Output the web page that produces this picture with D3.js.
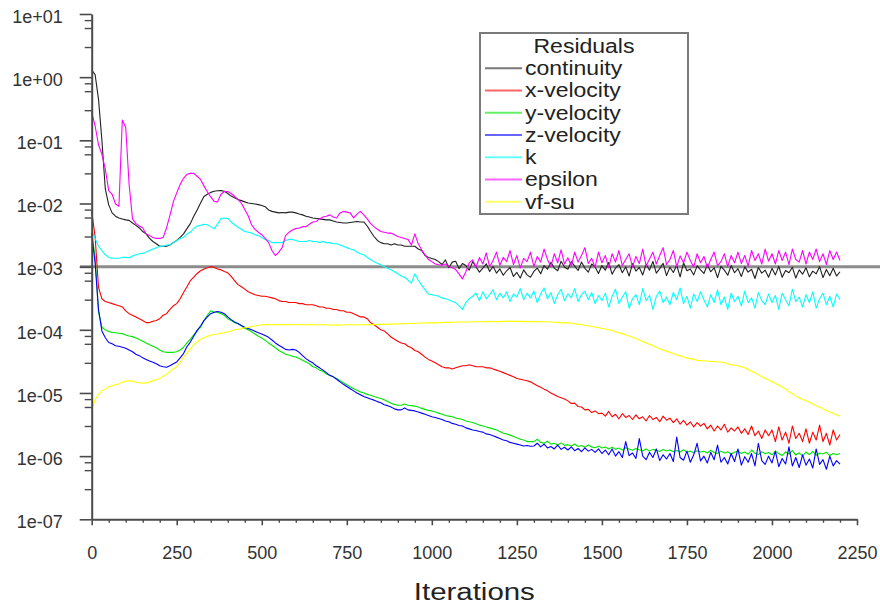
<!DOCTYPE html>
<html><head><meta charset="utf-8">
<script src="https://cdn.jsdelivr.net/npm/d3@7"></script>
<style>
body{margin:0;background:#fff}
svg{display:block}
text{font-family:"Liberation Sans",Arial,Helvetica,sans-serif}
</style>
</head><body>
<svg id="chart" width="880" height="613"></svg>
<script>
// ---- data ----
const iterations = d3.range(0, 2201, 10);

const continuity = [
1.3,1.1,0.45,0.1,0.017,0.0095,0.0071,0.0063,0.0059,0.0057,
0.0055,0.0054,0.0049,0.0045,0.0041,0.0036,0.0033,0.0028,0.0025,0.0023,
0.0021,0.0021,0.0021,0.0022,0.0024,0.0026,0.0029,0.0033,0.0040,0.0048,
0.0063,0.0079,0.0102,0.0129,0.0140,0.0150,0.0156,0.0159,0.0160,0.0156,
0.0144,0.0131,0.0123,0.0116,0.0111,0.0106,0.0102,0.0100,0.0098,0.0096,
0.0093,0.0089,0.0079,0.0075,0.0073,0.0071,0.0072,0.0071,0.0073,0.0073,
0.0071,0.0068,0.0066,0.0063,0.0061,0.0059,0.0058,0.0057,0.0056,0.0055,
0.0055,0.0053,0.0051,0.0050,0.0049,0.0049,0.0050,0.0051,0.0052,0.0051,
0.0051,0.0044,0.0036,0.0030,0.0026,0.0024,0.0023,0.0023,0.0022,0.0023,
0.0022,0.0022,0.0021,0.0021,0.0021,0.0021,0.0019,0.0018,0.0015,0.0014,
0.00135,0.0013,0.0012,0.00108,0.00128,0.00096,0.00118,0.00122,0.00093,0.00112,
0.00104,0.00088,0.0012,0.00099,0.00082,0.00095,0.00111,0.00084,0.00101,0.00079,
0.00092,0.00073,0.00086,0.00097,0.0007,0.00081,0.00066,0.00089,0.00074,0.00068,
0.00084,0.00095,0.00077,0.00104,0.00091,0.00117,0.00095,0.00086,0.00122,0.00099,
0.00091,0.0012,0.00102,0.00087,0.00118,0.00094,0.00082,0.0011,0.00099,0.00078,
0.00104,0.00088,0.00116,0.00076,0.00095,0.00108,0.0008,0.00099,0.00071,0.00112,
0.00085,0.00097,0.00074,0.00109,0.00088,0.00121,0.00079,0.00093,0.00113,0.00072,
0.00098,0.00081,0.00105,0.00069,0.00115,0.00086,0.00092,0.00074,0.00103,0.00089,
0.00078,0.00107,0.00083,0.00096,0.00067,0.00101,0.00088,0.00073,0.00104,0.0008,
0.00093,0.0007,0.00099,0.00082,0.00091,0.00065,0.00097,0.00079,0.00088,0.00068,
0.00094,0.00074,0.00101,0.00068,0.00087,0.0008,0.00098,0.00066,0.00089,0.00076,
0.00096,0.00069,0.00085,0.00077,0.001,0.00067,0.0009,0.00072,0.00094,0.00071,
0.00083];

const xVelocity = [
0.0075,0.003,0.00047,0.00031,0.00028,0.00027,0.00026,0.00025,0.00024,0.00023,
0.0002,0.00018,0.00017,0.00016,0.00015,0.00014,0.00013,0.00013,0.000137,0.00014,
0.00015,0.00017,0.00018,0.00021,0.00024,0.00026,0.00031,0.00039,0.00048,0.0006,
0.00068,0.00078,0.00086,0.00092,0.00096,0.001,0.00098,0.00092,0.00089,0.00084,
0.0008,0.0007,0.0006,0.00052,0.00048,0.00044,0.0004,0.00038,0.00036,0.00035,
0.00034,0.00034,0.00033,0.00032,0.00031,0.00029,0.00028,0.00028,0.00027,0.00027,
0.00027,0.00026,0.00026,0.00025,0.00025,0.00025,0.00024,0.00023,0.00023,0.00022,
0.00022,0.00021,0.00021,0.0002,0.0002,0.00019,0.00019,0.00018,0.00017,0.00016,
0.00016,0.00015,0.00013,0.00012,0.00011,0.0001,9.6e-5,8.6e-5,7.7e-5,7.1e-5,
6.6e-5,6.2e-5,6e-5,5.5e-5,5.2e-5,4.7e-5,4.5e-5,4.1e-5,3.7e-5,3.4e-5,
3.2e-5,3e-5,2.8e-5,2.6e-5,2.5e-5,2.5e-5,2.4e-5,2.5e-5,2.6e-5,2.7e-5,
2.7e-5,2.8e-5,2.7e-5,2.6e-5,2.6e-5,2.6e-5,2.5e-5,2.5e-5,2.4e-5,2.3e-5,
2.2e-5,2.1e-5,2e-5,1.9e-5,1.8e-5,1.7e-5,1.65e-5,1.6e-5,1.56e-5,1.5e-5,
1.4e-5,1.3e-5,1.23e-5,1.15e-5,1.08e-5,1e-5,9.4e-6,8.8e-6,8.4e-6,8e-6,
7.5e-6,6.8e-6,6.9e-6,6.1e-6,6e-6,5.4e-6,5.5e-6,4.9e-6,5.2e-6,4.7e-6,
4.8e-6,4.3e-6,5.1e-6,4.2e-6,4.6e-6,3.9e-6,4.7e-6,4.1e-6,4.4e-6,3.8e-6,
4.5e-6,3.9e-6,4.2e-6,3.6e-6,4.4e-6,3.8e-6,4.1e-6,3.5e-6,4.3e-6,3.7e-6,
4e-6,3.4e-6,3.9e-6,3.2e-6,3.7e-6,3.1e-6,3.5e-6,2.9e-6,3.4e-6,3e-6,
3.3e-6,2.7e-6,3.1e-6,2.5e-6,3e-6,2.6e-6,3.2e-6,2.4e-6,2.8e-6,2.5e-6,
2.9e-6,2.3e-6,2.7e-6,2.2e-6,3e-6,2.1e-6,2.5e-6,1.9e-6,2.6e-6,2.1e-6,
2.6e-6,1.7e-6,2.9e-6,1.8e-6,2.4e-6,1.6e-6,3e-6,1.9e-6,2.3e-6,1.7e-6,
2.7e-6,1.6e-6,2.4e-6,1.8e-6,3.1e-6,1.7e-6,2.3e-6,1.5e-6,2.6e-6,1.8e-6,
2.2e-6];

const yVelocity = [
0.0035,0.0014,0.00019,0.00011,1e-4,9.4e-5,9.1e-5,9e-5,8.8e-5,8.7e-5,
8.3e-5,8e-5,7.8e-5,7.4e-5,7e-5,6.6e-5,6.2e-5,5.8e-5,5.5e-5,5.2e-5,
4.8e-5,4.5e-5,4.4e-5,4.4e-5,4.4e-5,4.5e-5,4.8e-5,5.3e-5,6.2e-5,7.1e-5,
8.3e-5,9.6e-5,1.1e-4,1.4e-4,1.7e-4,2e-4,1.9e-4,1.9e-4,1.8e-4,1.7e-4,
1.5e-4,1.4e-4,1.3e-4,1.25e-4,1.16e-4,1.05e-4,1e-4,9.3e-5,8.6e-5,7.9e-5,
7.4e-5,6.8e-5,6.2e-5,5.7e-5,5.2e-5,4.7e-5,4.4e-5,4.1e-5,4e-5,3.8e-5,
3.7e-5,3.5e-5,3.3e-5,3.1e-5,2.9e-5,2.6e-5,2.5e-5,2.3e-5,2.2e-5,2e-5,
1.9e-5,1.8e-5,1.7e-5,1.56e-5,1.45e-5,1.35e-5,1.25e-5,1.17e-5,1.1e-5,1.04e-5,
1e-5,9.5e-6,9.2e-6,8.8e-6,8.5e-6,8.2e-6,7.8e-6,7.3e-6,6.9e-6,6.6e-6,
6.4e-6,6.4e-6,6.7e-6,6.4e-6,6.3e-6,6.2e-6,6e-6,5.7e-6,5.5e-6,5.3e-6,
5.2e-6,5e-6,4.8e-6,4.6e-6,4.4e-6,4.3e-6,4.2e-6,4e-6,3.9e-6,3.8e-6,
3.6e-6,3.5e-6,3.4e-6,3.25e-6,3.1e-6,3e-6,2.9e-6,2.8e-6,2.7e-6,2.6e-6,
2.45e-6,2.3e-6,2.25e-6,2.15e-6,2.05e-6,1.95e-6,1.85e-6,1.8e-6,1.7e-6,1.7e-6,
1.7e-6,1.85e-6,1.65e-6,1.6e-6,1.72e-6,1.55e-6,1.6e-6,1.5e-6,1.62e-6,1.48e-6,
1.52e-6,1.45e-6,1.56e-6,1.42e-6,1.47e-6,1.38e-6,1.5e-6,1.4e-6,1.36e-6,1.44e-6,
1.35e-6,1.4e-6,1.3e-6,1.38e-6,1.28e-6,1.34e-6,1.25e-6,1.36e-6,1.3e-6,1.24e-6,
1.32e-6,1.26e-6,1.22e-6,1.3e-6,1.2e-6,1.28e-6,1.24e-6,1.18e-6,1.27e-6,1.21e-6,
1.25e-6,1.17e-6,1.23e-6,1.16e-6,1.26e-6,1.15e-6,1.2e-6,1.13e-6,1.22e-6,1.16e-6,
1.19e-6,1.12e-6,1.24e-6,1.14e-6,1.1e-6,1.2e-6,1.12e-6,1.17e-6,1.08e-6,1.15e-6,
1.2e-6,1.1e-6,1.16e-6,1.07e-6,1.25e-6,1.11e-6,1.06e-6,1.18e-6,1.09e-6,1.14e-6,
1.05e-6,1.2e-6,1.1e-6,1.02e-6,1.17e-6,1.08e-6,1.22e-6,1.04e-6,1.13e-6,1e-6,
1.16e-6,1.06e-6,1.19e-6,1.03e-6,1.12e-6,1.08e-6,1.15e-6,1.02e-6,1.1e-6,1.05e-6,
1.1e-6];

const zVelocity = [
0.0033,0.00115,0.00021,9.6e-5,7.5e-5,6.3e-5,6e-5,5.6e-5,5.5e-5,5.3e-5,
5.1e-5,4.8e-5,4.5e-5,4.1e-5,3.9e-5,3.6e-5,3.4e-5,3.2e-5,3.06e-5,2.9e-5,
2.7e-5,2.6e-5,2.55e-5,2.7e-5,2.9e-5,3.1e-5,3.6e-5,4.2e-5,5.4e-5,6.4e-5,
7.9e-5,9.8e-5,1.15e-4,1.4e-4,1.6e-4,1.8e-4,1.9e-4,1.95e-4,1.9e-4,1.8e-4,
1.6e-4,1.45e-4,1.33e-4,1.26e-4,1.17e-4,1.1e-4,1.05e-4,1e-4,9.5e-5,9e-5,
8.6e-5,8.1e-5,7.6e-5,6.9e-5,6.2e-5,5.7e-5,5.3e-5,4.9e-5,4.8e-5,4.9e-5,
4.8e-5,4.4e-5,3.9e-5,3.5e-5,3.2e-5,3e-5,2.7e-5,2.5e-5,2.3e-5,2.1e-5,
1.9e-5,1.8e-5,1.65e-5,1.5e-5,1.37e-5,1.27e-5,1.17e-5,1.08e-5,1e-5,9.4e-6,
8.8e-6,8.4e-6,8e-6,7.7e-6,7.3e-6,7e-6,6.5e-6,6.3e-6,6e-6,5.6e-6,
5.4e-6,5.4e-6,5.8e-6,5.4e-6,5.3e-6,5.2e-6,5e-6,4.8e-6,4.6e-6,4.4e-6,
4.2e-6,4.1e-6,3.95e-6,3.8e-6,3.6e-6,3.5e-6,3.3e-6,3.2e-6,3.05e-6,3e-6,
2.8e-6,2.7e-6,2.6e-6,2.55e-6,2.45e-6,2.4e-6,2.25e-6,2.2e-6,2.1e-6,2e-6,
1.9e-6,1.8e-6,1.75e-6,1.65e-6,1.6e-6,1.55e-6,1.5e-6,1.45e-6,1.47e-6,1.43e-6,
1.45e-6,1.6e-6,1.4e-6,1.55e-6,1.35e-6,1.42e-6,1.3e-6,1.5e-6,1.28e-6,1.38e-6,
1.25e-6,1.4e-6,1.22e-6,1.32e-6,1.18e-6,1.35e-6,1.2e-6,1.28e-6,1.15e-6,1.3e-6,
1.1e-6,1.25e-6,1.05e-6,1.3e-6,1e-6,1.18e-6,9.5e-7,1.7e-6,1.02e-6,1.12e-6,
9.2e-7,1.9e-6,1e-6,8.8e-7,1.15e-6,9.5e-7,1.3e-6,8.5e-7,1.05e-6,9e-7,
1.1e-6,8.2e-7,2e-6,9.5e-7,8.6e-7,1.2e-6,8e-7,1.05e-6,1.6e-6,8.4e-7,
1e-6,7.8e-7,1.15e-6,8.8e-7,1.5e-6,8e-7,9.5e-7,7.5e-7,1.1e-6,8.2e-7,
1.3e-6,7.2e-7,9.8e-7,8e-7,1.1e-6,7e-7,1.6e-6,8.5e-7,7.4e-7,1e-6,
7.8e-7,1.2e-6,6.8e-7,9.2e-7,7.5e-7,1.4e-6,7e-7,9.5e-7,6.6e-7,1.05e-6,
7.2e-7,9e-7,6.5e-7,1.3e-6,7.4e-7,8.8e-7,6.2e-7,1e-6,7e-7,8.5e-7,
7.5e-7];

const kResidual = [
0.0038,0.0028,0.0021,0.0018,0.00154,0.0014,0.00136,0.00136,0.00136,0.0014,
0.0014,0.00138,0.00148,0.00154,0.0016,0.00162,0.0017,0.0018,0.0019,0.002,
0.0021,0.0021,0.0022,0.0022,0.0024,0.0026,0.0028,0.0029,0.0033,0.0035,
0.0040,0.0044,0.0045,0.0047,0.0046,0.0043,0.0040,0.0047,0.0058,0.0059,
0.0058,0.0051,0.0046,0.0042,0.0039,0.0036,0.0035,0.0034,0.0032,0.0031,
0.0029,0.0027,0.0026,0.0024,0.0024,0.0024,0.0024,0.0026,0.0027,0.0027,
0.0026,0.0025,0.0025,0.0025,0.0026,0.0025,0.0025,0.0024,0.0025,0.0024,
0.0024,0.0023,0.0023,0.0022,0.0021,0.0020,0.0019,0.00185,0.0017,0.0016,
0.00154,0.0014,0.0013,0.0012,0.00113,0.00107,0.001,0.00094,0.00089,0.00083,
0.00077,0.00071,0.00068,0.00061,0.00055,0.00077,0.00061,0.00051,0.00043,0.00037,
0.00036,0.00035,0.00034,0.00032,0.00031,0.0003,0.00028,0.00027,0.00024,0.00021,
0.00027,0.00031,0.00034,0.00038,0.00029,0.0004,0.00031,0.00036,0.00043,0.0003,
0.00038,0.00032,0.0004,0.00028,0.00037,0.00033,0.00045,0.0003,0.00038,0.00032,
0.00041,0.00027,0.00037,0.00046,0.00031,0.00039,0.00026,0.00036,0.00044,0.00029,
0.00037,0.00032,0.00045,0.00028,0.00036,0.00041,0.0003,0.00039,0.00026,0.00035,
0.00029,0.00038,0.00023,0.00034,0.00044,0.00026,0.00033,0.0004,0.00022,0.00031,
0.00036,0.00025,0.00045,0.00029,0.00035,0.00021,0.00034,0.00041,0.00027,0.00033,
0.00025,0.00039,0.0003,0.00046,0.00026,0.00034,0.00022,0.00037,0.00028,0.0004,
0.0003,0.00023,0.00036,0.00027,0.00043,0.00025,0.00033,0.00021,0.00038,0.00028,
0.00034,0.00024,0.00041,0.00027,0.00032,0.00022,0.00039,0.00029,0.00025,0.00037,
0.00027,0.00035,0.00021,0.00038,0.0003,0.00024,0.00044,0.00028,0.00033,0.00023,
0.00036,0.00027,0.0004,0.00022,0.00031,0.00038,0.00025,0.00034,0.00023,0.00037,
0.0003];

const epsilon = [
0.28,0.17,0.085,0.06,0.035,0.016,0.014,0.0098,0.009,0.21,
0.16,0.02,0.0057,0.0048,0.0044,0.0041,0.0033,0.0031,0.0029,0.0028,
0.0028,0.0029,0.0041,0.0065,0.0106,0.0147,0.020,0.025,0.029,0.030,
0.030,0.027,0.024,0.019,0.0153,0.0127,0.0108,0.0106,0.014,0.0155,
0.0155,0.0144,0.013,0.0116,0.0101,0.008,0.0064,0.0046,0.0039,0.0035,
0.0032,0.0028,0.0024,0.0018,0.0015,0.0017,0.002,0.0031,0.0035,0.0038,
0.004,0.0041,0.0043,0.0043,0.0047,0.0051,0.0052,0.0057,0.0061,0.0063,
0.0066,0.0061,0.0059,0.0071,0.0075,0.0073,0.0071,0.0059,0.0068,0.0075,
0.0066,0.0057,0.0048,0.0043,0.0039,0.0036,0.0035,0.0034,0.0034,0.0032,
0.003,0.0029,0.0028,0.0027,0.0022,0.0033,0.0023,0.00185,0.00154,0.0013,
0.0012,0.0011,0.00107,0.00105,0.0011,0.001,0.00096,0.0009,0.00077,0.00064,
0.00083,0.00115,0.00128,0.00098,0.0014,0.0011,0.00165,0.001,0.00125,0.0017,
0.00105,0.0014,0.0012,0.0018,0.00108,0.0015,0.00095,0.00135,0.0012,0.0017,
0.001,0.00145,0.00118,0.0019,0.0013,0.001,0.0016,0.00115,0.00185,0.0011,
0.00138,0.00102,0.0017,0.00118,0.0015,0.002,0.00112,0.00135,0.00098,0.0017,
0.00115,0.0015,0.00096,0.0016,0.00118,0.0018,0.00104,0.0013,0.0016,0.00098,
0.00145,0.00112,0.0019,0.00102,0.00132,0.0017,0.0011,0.0015,0.002,0.00108,
0.0013,0.0018,0.001,0.00148,0.00115,0.0017,0.00125,0.00098,0.0016,0.00115,
0.00145,0.00096,0.0013,0.0017,0.00104,0.0012,0.0016,0.001,0.0015,0.00115,
0.0017,0.00112,0.0015,0.00102,0.0018,0.00125,0.0016,0.0011,0.0019,0.00122,
0.0016,0.0011,0.0018,0.00125,0.0017,0.00108,0.0019,0.0013,0.00118,0.0018,
0.0011,0.0017,0.0013,0.0019,0.0012,0.0016,0.00108,0.0018,0.0013,0.0017,
0.00125];

const vfSu = [
5.4e-6,7.8e-6,9.5e-6,1.08e-5,1.16e-5,1.25e-5,1.3e-5,1.35e-5,1.4e-5,1.48e-5,
1.54e-5,1.56e-5,1.54e-5,1.48e-5,1.45e-5,1.43e-5,1.44e-5,1.5e-5,1.56e-5,1.62e-5,
1.7e-5,1.85e-5,1.97e-5,2.2e-5,2.4e-5,2.6e-5,3.1e-5,3.7e-5,4.3e-5,5e-5,
5.8e-5,6.4e-5,7.1e-5,7.5e-5,7.9e-5,8.2e-5,8.5e-5,8.6e-5,8.8e-5,9e-5,
9.3e-5,9.6e-5,1e-4,1.02e-4,1.04e-4,1.08e-4,1.1e-4,1.13e-4,1.15e-4,1.18e-4,
1.2e-4,1.2e-4,1.21e-4,1.2e-4,1.21e-4,1.21e-4,1.2e-4,1.21e-4,1.21e-4,1.2e-4,
1.2e-4,1.21e-4,1.2e-4,1.2e-4,1.21e-4,1.2e-4,1.2e-4,1.19e-4,1.2e-4,1.2e-4,
1.19e-4,1.19e-4,1.2e-4,1.19e-4,1.19e-4,1.2e-4,1.2e-4,1.19e-4,1.2e-4,1.2e-4,
1.2e-4,1.2e-4,1.21e-4,1.21e-4,1.22e-4,1.22e-4,1.22e-4,1.23e-4,1.23e-4,1.24e-4,
1.24e-4,1.25e-4,1.25e-4,1.26e-4,1.26e-4,1.27e-4,1.27e-4,1.28e-4,1.28e-4,1.29e-4,
1.29e-4,1.29e-4,1.3e-4,1.3e-4,1.31e-4,1.31e-4,1.32e-4,1.32e-4,1.33e-4,1.33e-4,
1.33e-4,1.33e-4,1.34e-4,1.34e-4,1.34e-4,1.34e-4,1.35e-4,1.35e-4,1.35e-4,1.35e-4,
1.35e-4,1.36e-4,1.36e-4,1.36e-4,1.36e-4,1.36e-4,1.36e-4,1.36e-4,1.35e-4,1.35e-4,
1.35e-4,1.35e-4,1.34e-4,1.34e-4,1.34e-4,1.33e-4,1.32e-4,1.31e-4,1.3e-4,1.29e-4,
1.29e-4,1.27e-4,1.25e-4,1.23e-4,1.2e-4,1.18e-4,1.16e-4,1.13e-4,1.11e-4,1.08e-4,
1.06e-4,1.03e-4,1e-4,9.7e-5,9.3e-5,9e-5,8.7e-5,8.3e-5,8e-5,7.6e-5,
7.3e-5,6.9e-5,6.5e-5,6.2e-5,5.9e-5,5.6e-5,5.3e-5,5e-5,4.8e-5,4.6e-5,
4.4e-5,4.2e-5,4e-5,3.9e-5,3.7e-5,3.6e-5,3.5e-5,3.4e-5,3.3e-5,3.25e-5,
3.2e-5,3.2e-5,3.15e-5,3.15e-5,3.1e-5,3.1e-5,3e-5,2.9e-5,2.8e-5,2.75e-5,
2.7e-5,2.6e-5,2.5e-5,2.35e-5,2.2e-5,2.1e-5,1.95e-5,1.8e-5,1.7e-5,1.6e-5,
1.5e-5,1.41e-5,1.32e-5,1.24e-5,1.16e-5,1.04e-5,9.7e-6,9e-6,8.4e-6,7.9e-6,
7.5e-6,7.1e-6,6.7e-6,6.3e-6,6e-6,5.6e-6,5.3e-6,5e-6,4.8e-6,4.5e-6,
4.3e-6];

const seriesNames  = ["continuity","x-velocity","y-velocity","z-velocity","k","epsilon","vf-su"];
const seriesValues = [continuity, xVelocity, yVelocity, zVelocity, kResidual, epsilon, vfSu];
const seriesColors = ["#202020","#ff0000","#00e600","#0000ff","#00ffff","#ff00ff","#ffff00"];

const xTicks = [0,250,500,750,1000,1250,1500,1750,2000,2250];
const xTickLabels = ["0","250","500","750","1000","1250","1500","1750","2000","2250"];
const yTicks = [1e1,1e0,1e-1,1e-2,1e-3,1e-4,1e-5,1e-6,1e-7];
const yTickLabels = ["1e+01","1e+00","1e-01","1e-02","1e-03","1e-04","1e-05","1e-06","1e-07"];
const convergenceLevel = 1e-3;
const legendTitle = "Residuals";
const xTitle = "Iterations";

// ---- chart ----
const svg = d3.select("#chart");
const x = d3.scaleLinear().domain([0, 2250]).range([91.7, 857]);
const y = d3.scaleLog().domain([1e-7, 1e1]).range([519.3, 14]);

// convergence line (under traces)
svg.append("line")
  .attr("x1", 80).attr("x2", 880)
  .attr("y1", y(convergenceLevel)).attr("y2", y(convergenceLevel))
  .attr("stroke", "#8c8c8c").attr("stroke-width", 3);

// traces
const line = d3.line()
  .x((d, i) => x(iterations[i]))
  .y(d => y(d));
const g = svg.append("g");
seriesValues.forEach((vals, si) => {
  g.append("path")
    .datum(vals)
    .attr("d", line)
    .attr("fill", "none")
    .attr("stroke", seriesColors[si])
    .attr("stroke-width", 1.1)
    .attr("stroke-linejoin", "round");
});

// y axis
const minorY = [];
yTicks.slice(1).forEach(d => { [3, 6, 8].forEach(m => minorY.push(d * m)); });

const yAxis = svg.append("g").attr("transform", "translate(91.7,0)")
  .call(d3.axisLeft(y).tickValues(yTicks)
    .tickFormat((d, i) => yTickLabels[i])
    .tickSize(12).tickSizeOuter(0).tickPadding(17));
yAxis.selectAll("text").attr("font-size", 18).attr("fill", "#333")
  .attr("dy", "0.46em")
  .style("font-family", '"Liberation Sans",Arial,sans-serif');
yAxis.select(".domain").attr("stroke", "#4a4a4a").attr("stroke-width", 2);
yAxis.selectAll(".tick line").attr("stroke", "#4a4a4a").attr("stroke-width", 1.6);

const yMinor = svg.append("g").attr("transform", "translate(91.7,0)")
  .call(d3.axisLeft(y).tickValues(minorY).tickFormat("").tickSize(7).tickSizeOuter(0));
yMinor.select(".domain").remove();
yMinor.selectAll(".tick line").attr("stroke", "#4a4a4a").attr("stroke-width", 1.4);

// x axis
const xAxis = svg.append("g").attr("transform", "translate(0,519.3)")
  .call(d3.axisBottom(x).tickValues(xTicks)
    .tickFormat((d, i) => xTickLabels[i])
    .tickSize(6).tickSizeOuter(0).tickPadding(20.5));
xAxis.selectAll("text").attr("font-size", 18).attr("fill", "#333")
  .style("font-family", '"Liberation Sans",Arial,sans-serif');
xAxis.select(".domain").attr("stroke", "#4a4a4a").attr("stroke-width", 2);
xAxis.selectAll(".tick line").attr("stroke", "#4a4a4a").attr("stroke-width", 1.6);

const minorX = d3.range(50, 2250, 50).filter(v => v % 250 !== 0);
const xMinor = svg.append("g").attr("transform", "translate(0,519.3)")
  .call(d3.axisBottom(x).tickValues(minorX).tickFormat("").tickSize(3.5).tickSizeOuter(0));
xMinor.select(".domain").remove();
xMinor.selectAll(".tick line").attr("stroke", "#4a4a4a").attr("stroke-width", 1.4);

// x title
svg.append("text")
  .attr("x", (x.range()[0] + x.range()[1]) / 2).attr("y", 599.5)
  .attr("text-anchor", "middle").attr("font-size", 23.5).attr("fill", "#222")
  .attr("textLength", 121).attr("lengthAdjust", "spacingAndGlyphs")
  .text(xTitle);

// legend (text slightly condensed vertically so rows do not collide)
const lgFont = 19.5, lgStretch = 23 / 19.5;
const lg = svg.append("g");
lg.append("rect").attr("x", 480).attr("y", 33).attr("width", 208).attr("height", 181)
  .attr("fill", "#fff").attr("stroke", "#7a7a7a").attr("stroke-width", 2);
const titleEl = lg.append("text").attr("x", 584).attr("y", 53.3).attr("text-anchor", "middle")
  .attr("font-size", lgFont).attr("fill", "#222").text(legendTitle);
titleEl.attr("textLength", titleEl.node().getComputedTextLength() * lgStretch)
  .attr("lengthAdjust", "spacingAndGlyphs");
seriesNames.forEach((name, i) => {
  const cy = 68.3 + i * 22.25;
  lg.append("line").attr("x1", 485).attr("x2", 522).attr("y1", cy).attr("y2", cy)
    .attr("stroke", seriesColors[i]).attr("stroke-width", 2).attr("opacity", 0.6);
  const t = lg.append("text").attr("x", 525).attr("y", cy + 6.8)
    .attr("font-size", lgFont).attr("fill", "#222").text(name);
  t.attr("textLength", t.node().getComputedTextLength() * lgStretch)
    .attr("lengthAdjust", "spacingAndGlyphs");
});
</script>
</body></html>
